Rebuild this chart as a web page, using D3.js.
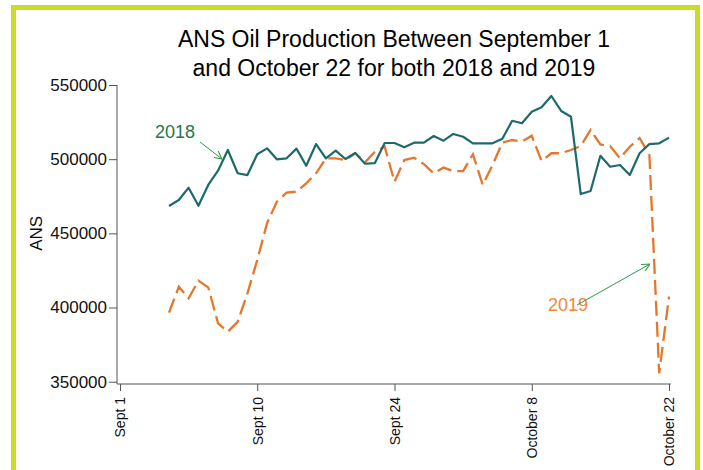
<!DOCTYPE html>
<html>
<head>
<meta charset="utf-8">
<script src="https://cdn.jsdelivr.net/npm/d3@7.9.0/dist/d3.min.js"></script>
<style>
  body { margin: 0; background: #fff; }
  svg { display: block; font-family: 'Liberation Sans', Arial, sans-serif; }
</style>
</head>
<body>
<svg id="chart" width="703" height="470"></svg>
<script>
// day offset from Sept 1
const days = [5, 6, 7, 8, 9, 10, 11, 12, 13, 14, 15, 16, 17, 18, 19, 20, 21, 22, 23, 24,
  25, 26, 27, 28, 29, 30, 31, 32, 33, 34, 35, 36, 37, 38, 39, 40, 41, 42, 43, 44,
  45, 46, 47, 48, 49, 50, 51, 52, 53, 54, 55, 56];

const prod2018 = [468400, 472500, 480800, 468600, 482600, 492200, 506200, 490500, 489300, 503300,
  507300, 499900, 500600, 507100, 495600, 510200, 500600, 505800, 500100, 504200,
  496900, 497400, 510900, 510900, 508000, 511100, 511100, 515600, 512500, 517000,
  515100, 510700, 510700, 510700, 513700, 525900, 524200, 532000, 535000, 542600,
  532500, 528600, 476500, 478500, 502300, 494900, 496100, 489300, 504000, 510200,
  510700, 514500];

const prod2019 = [396500, 414000, 406200, 418100, 413600, 389400, 383700, 390400, 409600, 432000,
  456800, 471300, 477400, 478100, 483700, 490500, 500600, 500600, 499400, 504000,
  497900, 505000, 508400, 484800, 499400, 501000, 496700, 490500, 494300, 492000,
  492000, 503300, 482600, 496100, 511200, 512900, 511800, 515800, 498800, 504000,
  504000, 506200, 508900, 519700, 509900, 508900, 500600, 508400, 514300, 502800,
  355700, 407300];

const xTicks = [0, 14, 28, 42, 56];
const xTickLabels = ['Sept 1', 'Sept 10', 'Sept 24', 'October 8', 'October 22'];
const yTicks = [350000, 400000, 450000, 500000, 550000];

const svg = d3.select('#chart');

// lime frame
svg.append('rect')
  .attr('x', 13.5).attr('y', 7.5)
  .attr('width', 684).attr('height', 480)
  .attr('fill', 'none')
  .attr('stroke', '#c9dc27')
  .attr('stroke-width', 5);

const x = d3.scaleLinear().domain([0, 56]).range([120, 669]);
const y = d3.scaleLinear().domain([350000, 550000]).range([381.7, 85]);

// title
svg.append('text')
  .attr('x', 394).attr('y', 47)
  .attr('text-anchor', 'middle')
  .attr('font-size', 23)
  .text('ANS Oil Production Between September 1');
svg.append('text')
  .attr('x', 394).attr('y', 75.5)
  .attr('text-anchor', 'middle')
  .attr('font-size', 23)
  .text('and October 22 for both 2018 and 2019');

// axes
const axisColor = '#555';
const yAxis = svg.append('g')
  .attr('transform', 'translate(117,0)')
  .call(d3.axisLeft(y).tickValues(yTicks).tickFormat(d3.format('d')).tickSize(8).tickPadding(2));
yAxis.select('.domain').remove();
yAxis.selectAll('line').attr('stroke', axisColor);
yAxis.selectAll('text').attr('font-size', 17).attr('fill', '#111').attr('font-family', null);

const xAxis = svg.append('g')
  .attr('transform', 'translate(0,384)')
  .call(d3.axisBottom(x).tickValues(xTicks).tickFormat((d, i) => xTickLabels[i]).tickSize(7));
xAxis.select('.domain').remove();
xAxis.selectAll('line').attr('stroke', axisColor);
xAxis.selectAll('text')
  .attr('font-size', 14)
  .attr('fill', '#111')
  .attr('font-family', null)
  .attr('text-anchor', 'end')
  .attr('transform', 'rotate(-90)')
  .attr('x', -13)
  .attr('y', 0)
  .attr('dy', '0.35em');

svg.append('line')
  .attr('x1', 117).attr('x2', 117)
  .attr('y1', y(550000)).attr('y2', 384)
  .attr('stroke', axisColor);
svg.append('line')
  .attr('x1', 117).attr('x2', x(56) + 2)
  .attr('y1', 384).attr('y2', 384)
  .attr('stroke', axisColor);

svg.append('text')
  .attr('transform', `translate(42,${y(450000)}) rotate(-90)`)
  .attr('text-anchor', 'middle')
  .attr('font-size', 17)
  .attr('fill', '#111')
  .text('ANS');

// lines
const line = d3.line().x((d, i) => x(days[i])).y((d) => y(d));

svg.append('path')
  .datum(prod2019)
  .attr('d', line)
  .attr('fill', 'none')
  .attr('stroke', '#e5762c')
  .attr('stroke-width', 2.3)
  .attr('stroke-dasharray', '15,6');

svg.append('path')
  .datum(prod2018)
  .attr('d', line)
  .attr('fill', 'none')
  .attr('stroke', '#1c6b6a')
  .attr('stroke-width', 2.2)
  .attr('stroke-linejoin', 'round');

// annotations
const defs = svg.append('defs');
defs.append('marker')
  .attr('id', 'arrow')
  .attr('viewBox', '0 0 10 10')
  .attr('refX', 10).attr('refY', 5)
  .attr('markerWidth', 8).attr('markerHeight', 8)
  .attr('markerUnits', 'userSpaceOnUse')
  .attr('orient', 'auto')
  .append('path')
  .attr('d', 'M0,0 L10,5 L0,10')
  .attr('fill', 'none')
  .attr('stroke', '#2f9a4a')
  .attr('stroke-width', 1.3);

svg.append('text')
  .attr('x', 155).attr('y', 138)
  .attr('font-size', 18)
  .attr('fill', '#22784a')
  .text('2018');
svg.append('line')
  .attr('x1', 200).attr('y1', 142)
  .attr('x2', 222).attr('y2', 159)
  .attr('stroke', '#2f9a4a')
  .attr('stroke-width', 1)
  .attr('marker-end', 'url(#arrow)');

svg.append('text')
  .attr('x', 548).attr('y', 311)
  .attr('font-size', 18)
  .attr('fill', '#f0883a')
  .text('2019');
svg.append('line')
  .attr('x1', 577).attr('y1', 305)
  .attr('x2', 650).attr('y2', 264)
  .attr('stroke', '#2f9a4a')
  .attr('stroke-width', 1)
  .attr('marker-end', 'url(#arrow)');
</script>
</body>
</html>
